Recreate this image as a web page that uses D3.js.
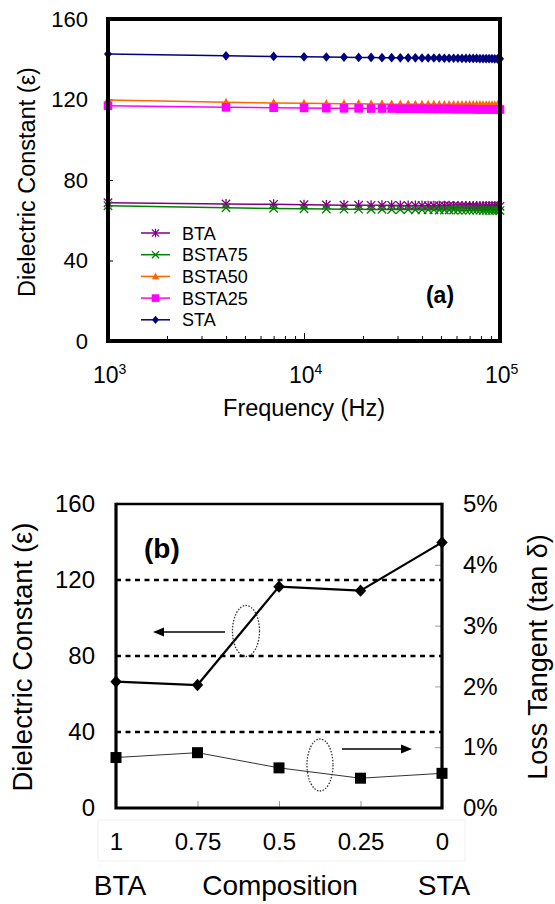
<!DOCTYPE html>
<html><head><meta charset="utf-8">
<script src="https://cdn.jsdelivr.net/npm/d3@7"></script>
<style>body{margin:0;background:#fff}svg{display:block}text{font-family:"Liberation Sans",Arial,sans-serif}</style>
</head><body><svg id="c" width="555" height="904"></svg>
<script>
// ---------- Data: panel (a) ----------
const freqs = [1000,4000,7000,10000,13000,16000,19000,22000,25000,28000,31000,34000,37000,40000,43000,46000,49000,52000,55000,58000,61000,64000,67000,70000,73000,76000,79000,82000,85000,88000,91000,94000,97000,100000];
const BTA    = [68.7,68.1,67.9,67.7,67.6,67.5,67.5,67.4,67.4,67.4,67.3,67.3,67.3,67.3,67.2,67.2,67.2,67.2,67.2,67.1,67.1,67.1,67.1,67.1,67.1,67.0,67.0,67.0,67.0,67.0,67.0,67.0,66.9,66.9];
const BSTA75 = [67.2,66.2,65.9,65.7,65.6,65.5,65.5,65.4,65.4,65.3,65.3,65.3,65.2,65.2,65.2,65.2,65.1,65.1,65.1,65.1,65.1,65.0,65.0,65.0,65.0,65.0,65.0,64.9,64.9,64.9,64.9,64.9,64.9,64.8];
const BSTA50 = [119.8,118.6,118.3,118.1,118.0,117.9,117.9,117.8,117.8,117.7,117.7,117.7,117.6,117.6,117.6,117.6,117.5,117.5,117.5,117.5,117.5,117.4,117.4,117.4,117.4,117.4,117.4,117.3,117.3,117.3,117.3,117.3,117.3,117.2];
const BSTA25 = [116.9,116.1,115.9,115.8,115.7,115.6,115.6,115.5,115.5,115.5,115.4,115.4,115.4,115.4,115.3,115.3,115.3,115.3,115.3,115.2,115.2,115.2,115.2,115.2,115.2,115.1,115.1,115.1,115.1,115.1,115.1,115.1,115.0,115.0];
const STA    = [142.6,141.7,141.4,141.2,141.1,141.0,140.9,140.9,140.8,140.8,140.7,140.7,140.7,140.6,140.6,140.6,140.6,140.5,140.5,140.5,140.5,140.4,140.4,140.4,140.4,140.4,140.3,140.3,140.3,140.3,140.3,140.2,140.2,140.2];
const seriesNames = ["BTA","BSTA75","BSTA50","BSTA25","STA"];
const yTicksA = [0,40,80,120,160];
const xMajorA = [1000,10000,100000];
const xMajorExp = ["3","4","5"];

// ---------- Data: panel (b) ----------
const compositions = ["1","0.75","0.5","0.25","0"];
const dielectricB = [66.5,64.7,116.5,114.4,139.8];
const lossTangentB = [0.0083,0.0091,0.0066,0.0049,0.0057];
const yTicksBL = [0,40,80,120,160];
const yTicksBR = [0,0.01,0.02,0.03,0.04,0.05];
const gridB = [40,80,120];

const svg = d3.select("#c");
const FONT = '"Liberation Sans",Arial,sans-serif';

// ---------- Panel (a) ----------
const xA = d3.scaleLog().domain([1e3,1e5]).range([108,500]);
const yA = d3.scaleLinear().domain([0,160]).range([341,19]);
const gA = svg.append("g");

const colors = {BTA:"#800080",BSTA75:"#008000",BSTA50:"#FF6600",BSTA25:"#FF00FF",STA:"#000080"};
const values = {BTA,BSTA75,BSTA50,BSTA25,STA};

function marker(g, name, x, y, s){
  const c = colors[name];
  if(name==="BTA"){
    g.append("path").attr("d",`M${x-s},${y-s}L${x+s},${y+s}M${x-s},${y+s}L${x+s},${y-s}M${x},${y-s*1.2}L${x},${y+s*1.2}`).attr("stroke",c).attr("stroke-width",1.3).attr("fill","none");
  } else if(name==="BSTA75"){
    g.append("path").attr("d",`M${x-s},${y-s}L${x+s},${y+s}M${x-s},${y+s}L${x+s},${y-s}`).attr("stroke",c).attr("stroke-width",1.3).attr("fill","none");
  } else if(name==="BSTA50"){
    g.append("path").attr("d",`M${x},${y-s*1.1}L${x+s},${y+s*0.8}L${x-s},${y+s*0.8}Z`).attr("fill",c);
  } else if(name==="BSTA25"){
    g.append("rect").attr("x",x-s).attr("y",y-s).attr("width",2*s).attr("height",2*s).attr("fill",c);
  } else {
    g.append("path").attr("d",`M${x},${y-s*1.15}L${x+s*0.95},${y}L${x},${y+s*1.15}L${x-s*0.95},${y}Z`).attr("fill",c);
  }
}

// axes ticks (inward)
const yAxA = d3.axisLeft(yA).tickValues(yTicksA).tickSize(-5).tickPadding(20).tickFormat(d3.format("d"));
gA.append("g").attr("transform","translate(108,0)").call(yAxA)
  .call(g=>{g.select(".domain").remove();g.selectAll("line").attr("stroke","#000");g.selectAll("text").attr("font-size",22).attr("font-family",FONT).attr("fill","#000");});

const minor = [];
[1000,10000].forEach(b=>{for(let k=2;k<=9;k++) minor.push(b*k);});
gA.append("g").attr("transform","translate(0,341)").call(d3.axisBottom(xA).tickValues(minor).tickSize(-5).tickFormat(""))
  .call(g=>{g.select(".domain").remove();g.selectAll("line").attr("stroke","#000");});
gA.append("g").attr("transform","translate(0,341)").call(d3.axisBottom(xA).tickValues(xMajorA).tickSize(-8).tickFormat(""))
  .call(g=>{g.select(".domain").remove();g.selectAll("line").attr("stroke","#000");});

xMajorA.forEach((v,i)=>{
  const t = gA.append("text").attr("x",xA(v)-15).attr("y",383).attr("font-size",23).attr("fill","#000");
  t.append("tspan").text("10");
  t.append("tspan").attr("dy",-9).attr("font-size",14).text(xMajorExp[i]);
});

// series
const lineA = d3.line().x((d,i)=>xA(freqs[i])).y(d=>yA(d));
seriesNames.forEach(n=>{
  gA.append("path").datum(values[n]).attr("d",lineA).attr("fill","none").attr("stroke",colors[n]).attr("stroke-width",1.5);
  const mg = gA.append("g");
  values[n].forEach((v,i)=>marker(mg,n,xA(freqs[i]),yA(v),n==="BSTA25"?4.3:4.2));
});

// frame
gA.append("rect").attr("x",108).attr("y",19).attr("width",392).attr("height",322).attr("fill","none").attr("stroke","#000").attr("stroke-width",4);

// legend
seriesNames.forEach((n,i)=>{
  const cy = 233 + i*21.7;
  gA.append("line").attr("x1",141).attr("x2",170).attr("y1",cy).attr("y2",cy).attr("stroke",colors[n]).attr("stroke-width",1.5);
  marker(gA,n,155.5,cy,n==="BSTA25"?3.8:3.6);
  gA.append("text").attr("x",182).attr("y",cy+6.5).attr("font-size",18).attr("fill","#000").text(n);
});

gA.append("text").attr("x",440).attr("y",303).attr("text-anchor","middle").attr("font-size",23).attr("font-weight","bold").text("(a)");
gA.append("text").attr("x",304).attr("y",416).attr("text-anchor","middle").attr("font-size",23.5).text("Frequency (Hz)");
gA.append("text").attr("transform","translate(35,182) rotate(-90)").attr("text-anchor","middle").attr("font-size",23.5).text("Dielectric Constant (ε)");

// ---------- Panel (b) ----------
const xB = d3.scalePoint().domain(compositions).range([116,442]);
const yBL = d3.scaleLinear().domain([0,160]).range([808,504]);
const yBR = d3.scaleLinear().domain([0,0.05]).range([808,504]);
const gB = svg.append("g");

// faint label box
gB.append("rect").attr("x",98).attr("y",820).attr("width",367).attr("height",41).attr("fill","none").attr("stroke","#f0f0f0").attr("stroke-width",1);

// grid dashed lines
gB.selectAll(".grid").data(gridB).enter().append("line")
  .attr("x1",116).attr("x2",442).attr("y1",d=>yBL(d)).attr("y2",d=>yBL(d))
  .attr("stroke","#000").attr("stroke-width",2.3).attr("stroke-dasharray","5,4.5");

// axes
gB.append("g").attr("transform","translate(116,0)").call(d3.axisLeft(yBL).tickValues(yTicksBL).tickSize(0).tickPadding(21).tickFormat(d3.format("d")))
  .call(g=>{g.select(".domain").remove();g.selectAll("text").attr("font-size",24).attr("font-family",FONT).attr("fill","#000");});
gB.append("g").attr("transform","translate(442,0)").call(d3.axisRight(yBR).tickValues(yTicksBR).tickSize(-7).tickPadding(21).tickFormat(d3.format(".0%")))
  .call(g=>{g.select(".domain").remove();g.selectAll("line").attr("stroke","#999");g.selectAll("text").attr("font-size",24).attr("font-family",FONT).attr("fill","#000");});
gB.append("g").attr("transform","translate(0,808)").call(d3.axisBottom(xB).tickSize(-7).tickPadding(25))
  .call(g=>{g.select(".domain").remove();g.selectAll("line").attr("stroke","#999");g.selectAll("text").attr("font-size",24).attr("font-family",FONT).attr("fill","#000").attr("dy","0.71em");});

// loss tangent line + squares
const lineLoss = d3.line().x((d,i)=>xB(compositions[i])).y(d=>yBR(d));
gB.append("path").datum(lossTangentB).attr("d",lineLoss).attr("fill","none").attr("stroke","#333").attr("stroke-width",1);
gB.selectAll(".sq").data(lossTangentB).enter().append("rect")
  .attr("x",(d,i)=>xB(compositions[i])-5.5).attr("y",d=>yBR(d)-5.5).attr("width",11).attr("height",11).attr("fill","#000");

// dielectric line + diamonds
const lineDiel = d3.line().x((d,i)=>xB(compositions[i])).y(d=>yBL(d));
gB.append("path").datum(dielectricB).attr("d",lineDiel).attr("fill","none").attr("stroke","#000").attr("stroke-width",2.2);
gB.selectAll(".dm").data(dielectricB).enter().append("path")
  .attr("d",(d,i)=>{const x=xB(compositions[i]),y=yBL(d);return `M${x},${y-6.2}L${x+5.7},${y}L${x},${y+6.2}L${x-5.7},${y}Z`;}).attr("fill","#000");

// frame
gB.append("path").attr("d","M116,504L442,504").attr("stroke","#000").attr("stroke-width",2.5);
gB.append("path").attr("d","M116,502.8L116,808L442,808L442,502.8").attr("fill","none").attr("stroke","#000").attr("stroke-width",3.2);

// ellipses and arrows
gB.append("ellipse").attr("cx",246).attr("cy",631).attr("rx",13.5).attr("ry",25.5).attr("fill","none").attr("stroke","#333").attr("stroke-width",1.3).attr("stroke-dasharray","1.5,1.5");
gB.append("ellipse").attr("cx",320).attr("cy",765).attr("rx",13).attr("ry",26).attr("fill","none").attr("stroke","#333").attr("stroke-width",1.3).attr("stroke-dasharray","1.5,1.5");
gB.append("line").attr("x1",225).attr("x2",162).attr("y1",632).attr("y2",632).attr("stroke","#000").attr("stroke-width",1.6);
gB.append("path").attr("d","M153,632L164,627.5L164,636.5Z").attr("fill","#000");
gB.append("line").attr("x1",342).attr("x2",403).attr("y1",749).attr("y2",749).attr("stroke","#000").attr("stroke-width",1.6);
gB.append("path").attr("d","M412,749L401,744.5L401,753.5Z").attr("fill","#000");

gB.append("text").attr("x",144).attr("y",558).attr("font-size",28).attr("font-weight","bold").text("(b)");
gB.append("text").attr("x",120).attr("y",895).attr("text-anchor","middle").attr("font-size",28).text("BTA");
gB.append("text").attr("x",280).attr("y",895).attr("text-anchor","middle").attr("font-size",28).text("Composition");
gB.append("text").attr("transform","translate(32,657) rotate(-90)").attr("text-anchor","middle").attr("font-size",27.5).text("Dielectric Constant (ε)");
gB.append("text").attr("x",444).attr("y",895).attr("text-anchor","middle").attr("font-size",28).text("STA");
gB.append("text").attr("transform","translate(547,657) rotate(-90)").attr("text-anchor","middle").attr("font-size",27).text("Loss Tangent (tan δ)");
</script></body></html>
